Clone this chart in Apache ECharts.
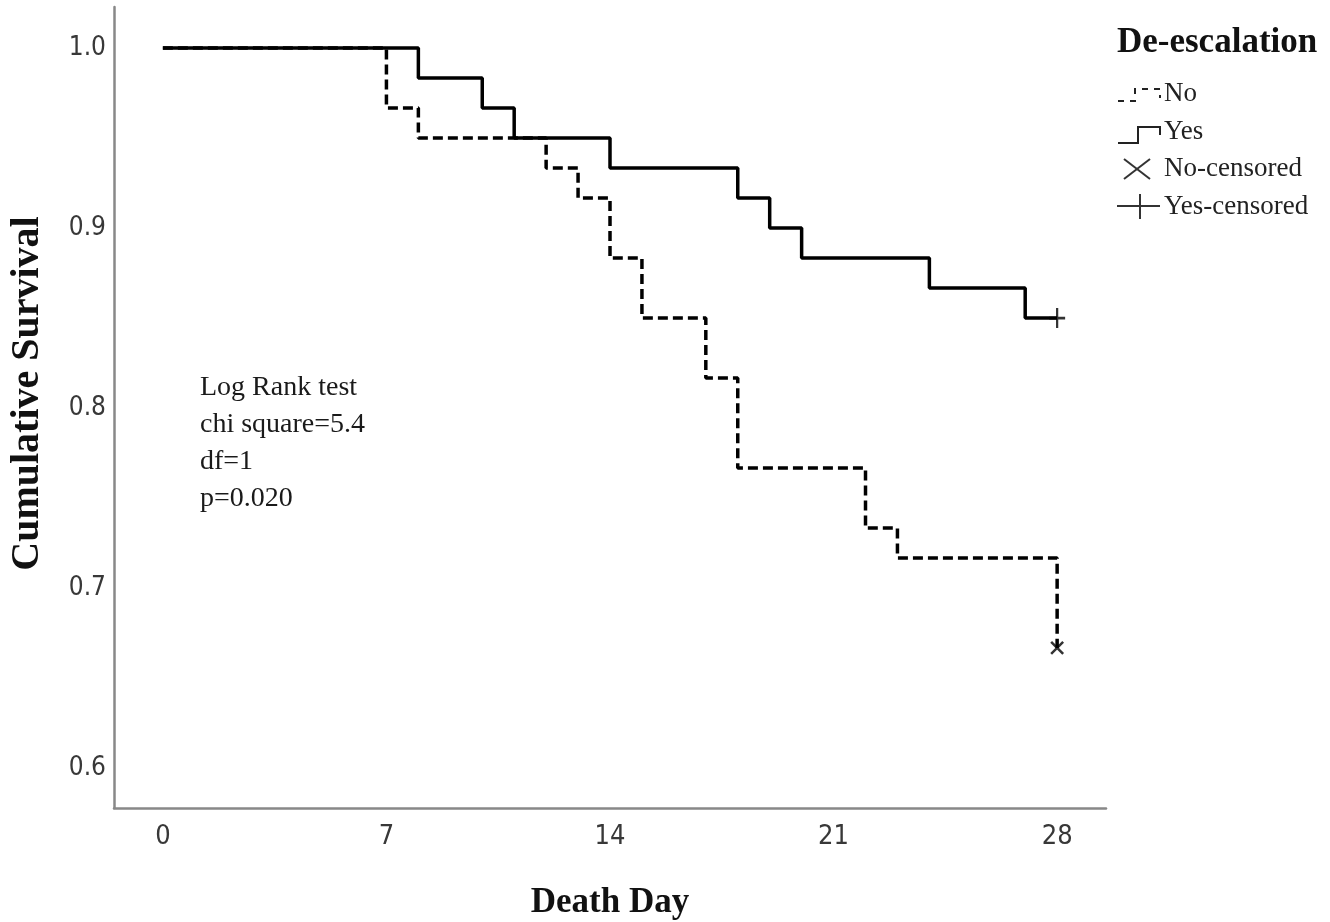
<!DOCTYPE html>
<html>
<head>
<meta charset="utf-8">
<script src="https://cdn.jsdelivr.net/npm/echarts@6/dist/echarts.min.js"></script>
<style>html,body{margin:0;padding:0;background:#fff}#c{width:1330px;height:922px}</style>
</head>
<body>
<div id="c"></div>
<script>
// Kaplan-Meier data (event times in days, cumulative survival)
const yesTimes = [0, 8, 10, 11, 14, 18, 19, 20, 24, 27, 28];
const yesSurv  = [1, 0.9833, 0.9667, 0.95, 0.9333, 0.9167, 0.9, 0.8833, 0.8667, 0.85, 0.85];
const noTimes  = [0, 7, 8, 12, 13, 14, 15, 17, 18, 22, 23, 28];
const noSurv   = [1, 0.9667, 0.95, 0.9333, 0.9167, 0.8833, 0.85, 0.8167, 0.7667, 0.7333, 0.7167, 0.6667];
const noCensored  = [[28, 0.6667]];
const yesCensored = [[28, 0.85]];
const xTicks = [0, 7, 14, 21, 28];
const yTicks = [0.6, 0.7, 0.8, 0.9, 1.0];
const annotationLines = ['Log Rank test', 'chi square=5.4', 'df=1', 'p=0.020'];

const zip = (a, b) => a.map((v, i) => [v, b[i]]);
const serif = '"Liberation Serif", "Times New Roman", serif';
const narrow = '"Liberation Sans Narrow", "DejaVu Sans Condensed", "Arial Narrow", sans-serif';

const chart = echarts.init(document.getElementById('c'), null, {renderer: 'canvas'});
chart.setOption({
  animation: false,
  backgroundColor: '#fff',
  grid: {left: 114, right: 224, top: 7, bottom: 114, containLabel: false, outerBoundsMode: 'none'},
  xAxis: {
    type: 'value', min: -1.53, max: 29.53,
    name: 'Death Day', nameLocation: 'middle', nameGap: 77,
    nameTextStyle: {fontFamily: serif, fontWeight: 'bold', fontSize: 35, color: '#111'},
    axisLine: {show: true, onZero: false, lineStyle: {color: '#888', width: 2.5}},
    axisTick: {show: false},
    splitLine: {show: false},
    axisLabel: {customValues: xTicks, fontFamily: narrow, fontSize: 27, color: '#383838', margin: 15,
      formatter: v => String(v)}
  },
  yAxis: {
    type: 'value', min: 0.5778, max: 1.0228,
    name: 'Cumulative Survival', nameLocation: 'middle', nameRotate: 90, nameGap: 66,
    nameTextStyle: {fontFamily: serif, fontWeight: 'bold', fontSize: 40, color: '#111', padding: [0, 0, 0, 28]},
    axisLine: {show: true, onZero: false, lineStyle: {color: '#888', width: 2.5}},
    axisTick: {show: false},
    splitLine: {show: false},
    axisLabel: {customValues: yTicks, fontFamily: narrow, fontSize: 26, color: '#383838', margin: 8,
      padding: [8, 0, 0, 0], formatter: v => v.toFixed(1)}
  },
  series: [
    {name: 'Yes', type: 'line', step: 'end', data: zip(yesTimes, yesSurv), symbol: 'none',
      lineStyle: {color: '#000', width: 3.5, type: 'solid'}, z: 2},
    {name: 'No', type: 'line', step: 'end', data: zip(noTimes, noSurv), symbol: 'none',
      lineStyle: {color: '#000', width: 3.5, type: [10, 5]}, z: 3},
    {name: 'No-censored', type: 'scatter', data: noCensored,
      symbol: 'path://M0,0L10,10M10,0L0,10', symbolSize: [12, 12],
      itemStyle: {color: 'rgba(0,0,0,0)', borderColor: '#000', borderWidth: 2.5}, z: 4},
    {name: 'Yes-censored', type: 'scatter', data: yesCensored,
      symbol: 'path://M0,5L10,5M5,0L5,10', symbolSize: [16, 20],
      itemStyle: {color: 'rgba(0,0,0,0)', borderColor: '#000', borderWidth: 2.5}, z: 4}
  ],
  graphic: [
    {type: 'text', left: 200, top: 369, style: {text: annotationLines.join('\n'), font: '28px ' + serif,
      fill: '#1a1a1a', lineHeight: 37}},
    {type: 'text', left: 1117, top: 25, style: {text: 'De-escalation', font: 'bold 35px ' + serif, fill: '#111'}},
    // legend: No (dashed step)
    {type: 'polyline', shape: {points: [[1118, 101], [1135, 101], [1135, 89], [1160, 89], [1160, 98]]},
      style: {stroke: '#222', lineWidth: 2, fill: null, lineDash: [6, 6]}},
    {type: 'text', left: 1164, top: 80, style: {text: 'No', font: '27px ' + serif, fill: '#222'}},
    // legend: Yes (solid step)
    {type: 'polyline', shape: {points: [[1118, 143], [1138, 143], [1138, 127], [1160, 127], [1160, 135]]},
      style: {stroke: '#222', lineWidth: 2, fill: null}},
    {type: 'text', left: 1164, top: 118, style: {text: 'Yes', font: '27px ' + serif, fill: '#222'}},
    // legend: No-censored
    {type: 'polyline', shape: {points: [[1124, 159], [1150, 179]]}, style: {stroke: '#333', lineWidth: 2}},
    {type: 'polyline', shape: {points: [[1150, 159], [1124, 179]]}, style: {stroke: '#333', lineWidth: 2}},
    {type: 'text', left: 1164, top: 155, style: {text: 'No-censored', font: '27px ' + serif, fill: '#222'}},
    // legend: Yes-censored
    {type: 'polyline', shape: {points: [[1117, 206], [1160, 206]]}, style: {stroke: '#333', lineWidth: 2}},
    {type: 'polyline', shape: {points: [[1140, 194], [1140, 219]]}, style: {stroke: '#333', lineWidth: 2}},
    {type: 'text', left: 1164, top: 193, style: {text: 'Yes-censored', font: '27px ' + serif, fill: '#222'}}
  ]
});
</script>
</body>
</html>
